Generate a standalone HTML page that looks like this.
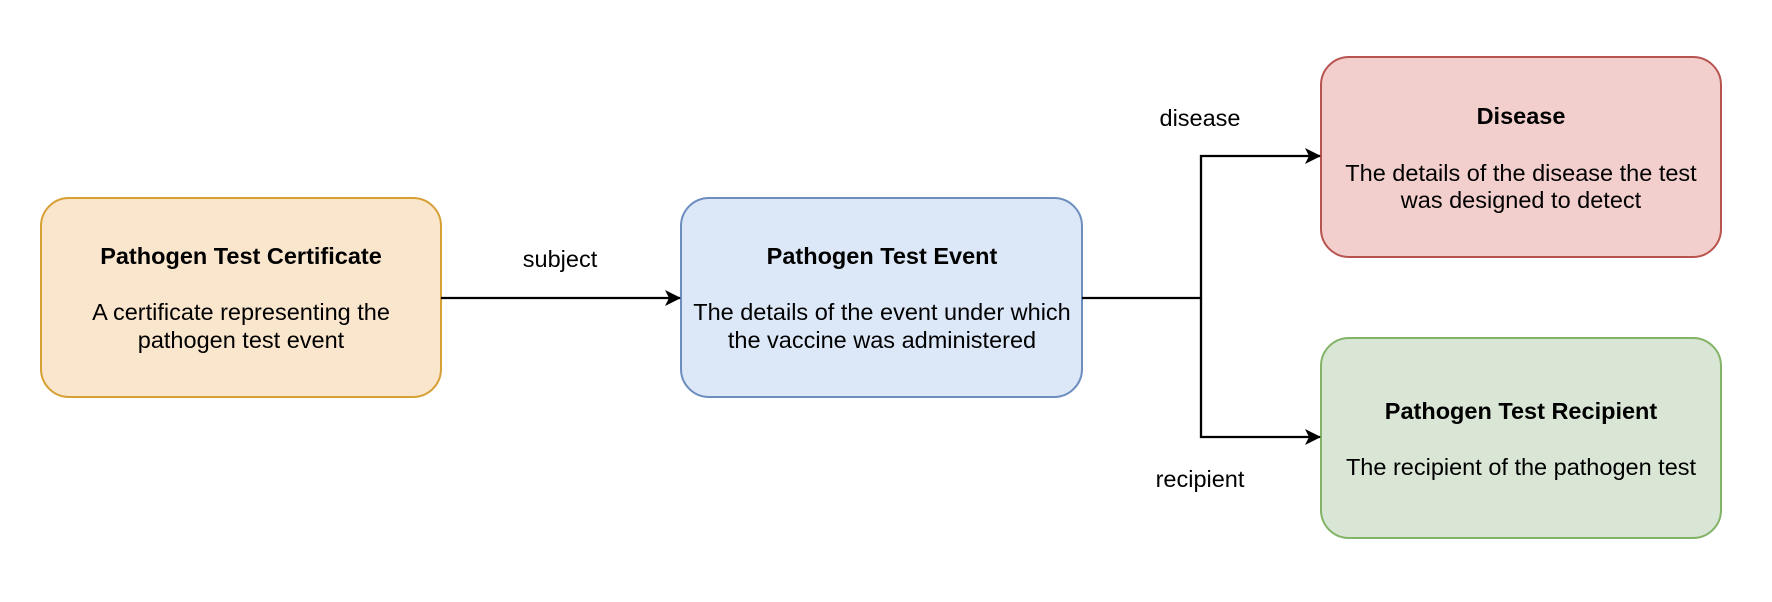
<!DOCTYPE html>
<html><head><style>html,body{margin:0;padding:0;background:#fff}svg{display:block}</style></head>
<body>
<svg width="1772" height="602" viewBox="0 0 1772 602" xmlns="http://www.w3.org/2000/svg" font-family="'Liberation Sans', Arial, sans-serif" font-size="23.5">
<defs><marker id="a" markerWidth="16" markerHeight="16" refX="15" refY="8" orient="auto" markerUnits="userSpaceOnUse"><path d="M0,0 L16,8 L0,16 L4,8 Z" fill="#000"/></marker></defs>
<rect x="41" y="198" width="400" height="199" rx="28" fill="#fae5cd" stroke="#d6a034" stroke-width="2"/>
<rect x="681" y="198" width="401" height="199" rx="28" fill="#dce7f7" stroke="#6c8ebf" stroke-width="2"/>
<rect x="1321" y="57" width="400" height="200" rx="28" fill="#f2cfcc" stroke="#b85450" stroke-width="2"/>
<rect x="1321" y="338" width="400" height="200" rx="28" fill="#d9e6d5" stroke="#82b366" stroke-width="2"/>
<g fill="none" stroke="#000" stroke-width="2.3">
<path d="M441,298 H680" marker-end="url(#a)"/>
<path d="M1082,298 H1201 V156 H1320" marker-end="url(#a)"/>
<path d="M1201,298 V437 H1320" marker-end="url(#a)"/>
</g>
<g text-anchor="middle" fill="#000">
<text x="241" y="264" font-weight="bold">Pathogen Test Certificate</text>
<text x="241" y="320">A certificate representing the</text>
<text x="241" y="348">pathogen test event</text>
<text x="882" y="264" font-weight="bold">Pathogen Test Event</text>
<text x="882" y="320">The details of the event under which</text>
<text x="882" y="348">the vaccine was administered</text>
<text x="1521" y="124" font-weight="bold">Disease</text>
<text x="1521" y="181">The details of the disease the test</text>
<text x="1521" y="208">was designed to detect</text>
<text x="1521" y="419" font-weight="bold">Pathogen Test Recipient</text>
<text x="1521" y="475">The recipient of the pathogen test</text>
<text x="560" y="267">subject</text>
<text x="1200" y="126">disease</text>
<text x="1200" y="487">recipient</text>
</g>
</svg>
</body></html>
